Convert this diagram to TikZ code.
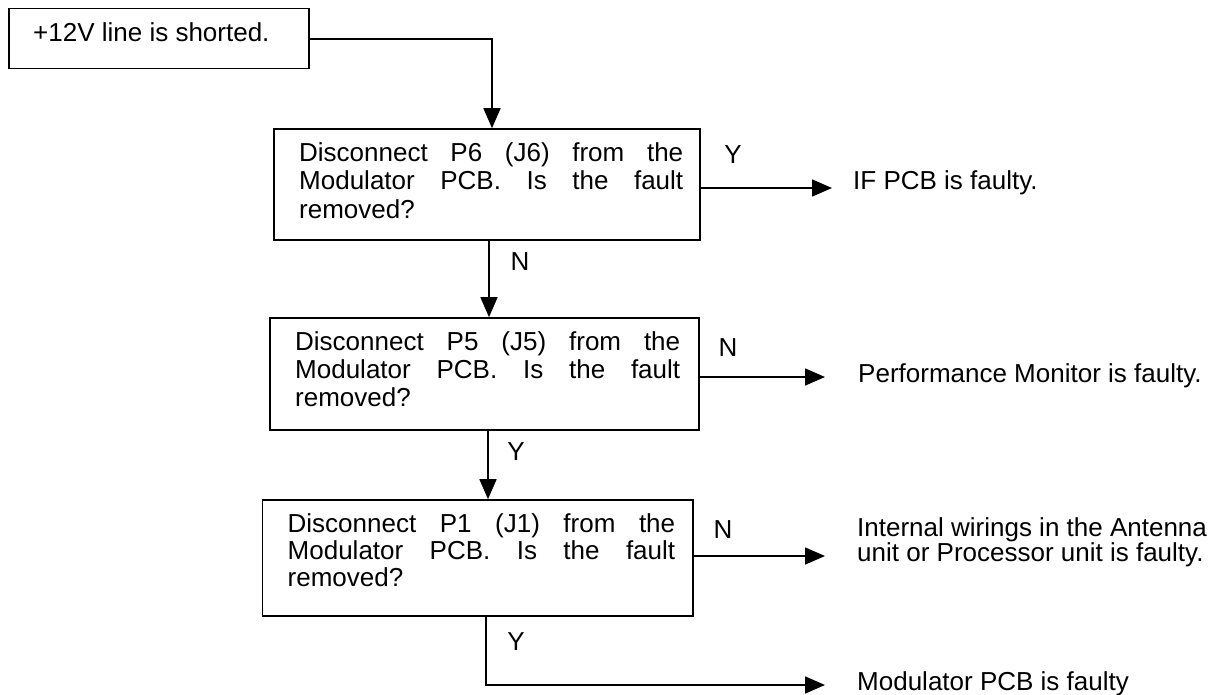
\documentclass[tikz,border=0pt]{standalone}
\usepackage{fontspec}
\setmainfont{Liberation Sans}
\usetikzlibrary{arrows.meta}
\begin{document}
\begin{tikzpicture}[x=1pt,y=-1pt,
  every node/.style={font=\fontsize{26pt}{28pt}\selectfont},
  flowline/.style={line width=1.6pt},
  flowarrow/.style={flowline,-{Triangle[length=20pt,width=17pt]}},
  qbox/.style={draw,line width=1.6pt,inner sep=0pt},
  qtext/.style={inner sep=0pt,anchor=west,align=justify},
  tag/.style={inner sep=0pt},
  result/.style={inner sep=0pt,anchor=base west,align=left}]
\useasboundingbox (0,0) rectangle (1226,695);

% start box
\node[qbox,minimum width=300pt,minimum height=60pt] (start) at (159,38.5) {};
\node[tag,anchor=base west] (starttxt) at (33,42) {+12V line is shorted.};

% question boxes
\node[qbox,minimum width=426pt,minimum height=111pt] (q1) at (487,184.5) {};
\node[qbox,minimum width=429pt,minimum height=112pt] (q2) at (484.5,374) {};
\node[qbox,minimum width=430.5pt,minimum height=116pt] (q3) at (477.75,558) {};

% question texts
\node[qtext,text width=384pt,font=\fontsize{26pt}{28.5pt}\selectfont] (q1t) at (299,180.5)
  {Disconnect P6 (J6) from the\linebreak Modulator PCB. Is the fault\linebreak removed?};
\node[qtext,text width=385pt,font=\fontsize{26pt}{28pt}\selectfont] (q2t) at (295,369.5)
  {Disconnect P5 (J5) from the\linebreak Modulator PCB. Is the fault\linebreak removed?};
\node[qtext,text width=387.5pt,font=\fontsize{26pt}{27pt}\selectfont] (q3t) at (287.5,550)
  {Disconnect P1 (J1) from the\linebreak Modulator PCB. Is the fault\linebreak removed?};

% outcomes
\node[result] (r1) at (853,190) {IF PCB is faulty.};
\node[result] (r2) at (858,382) {Performance Monitor is faulty.};
\node[result,font=\fontsize{26pt}{25pt}\selectfont] (r3) at (857,561) {Internal wirings in the Antenna\\unit or Processor unit is faulty.};
\node[result] (r4) at (857,690) {Modulator PCB is faulty};

% arrow end points and bends
\coordinate (e1) at (832,188);
\coordinate (e2) at (825,377);
\coordinate (e3) at (825,556);
\coordinate (e4) at (825,685);
\coordinate (c0) at (492,39);
\coordinate (m1) at (489,0);
\coordinate (m2) at (488,0);
\coordinate (c4) at (486,685);

% connectors
\draw[flowarrow] (start.east |- c0) -- (c0) -- (c0 |- q1.north);
\draw[flowarrow] (q1.east |- e1) -- (e1);
\draw[flowarrow] (m1 |- q1.south) -- (m1 |- q2.north);
\draw[flowarrow] (q2.east |- e2) -- (e2);
\draw[flowarrow] (m2 |- q2.south) -- (m2 |- q3.north);
\draw[flowarrow] (q3.east |- e3) -- (e3);
\draw[flowarrow] (c4 |- q3.south) -- (c4) -- (e4);

% branch labels
\node[tag] (y1) at (733,155) {Y};
\node[tag] (n1) at (520,262) {N};
\node[tag] (n2) at (728,348) {N};
\node[tag] (y2) at (516,452) {Y};
\node[tag] (n3) at (723,530) {N};
\node[tag] (y3) at (516,642) {Y};
\end{tikzpicture}
\end{document}
